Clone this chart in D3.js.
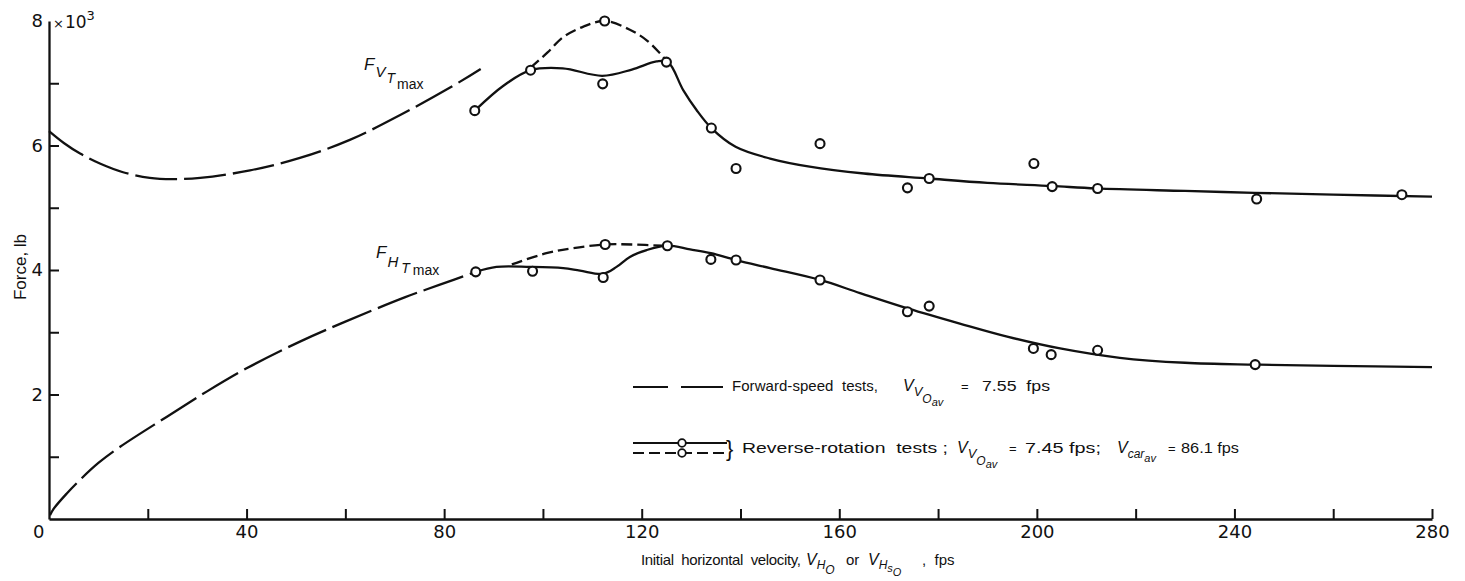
<!DOCTYPE html>
<html><head><meta charset="utf-8">
<script src="https://cdn.jsdelivr.net/npm/d3@7"></script>
<style>
body{margin:0;background:#fff}
text{font-family:"Liberation Sans",Arial,sans-serif;fill:#111;white-space:pre}
</style>
</head><body>
<svg id="c" width="1465" height="581"></svg>
<script>
// ---------- data ----------
const xTickValues = [0,20,40,60,80,100,120,140,160,180,200,220,240,260,280];
const xTickLabels = [0,40,80,120,160,200,240,280];
const yTickValues = [1,2,3,4,5,6,7,8];
const yTickLabels = [2,4,6,8];

// Forward-speed tests (long dashed curves)
const fvForwardX = [0, 3, 6.3, 10.3, 15, 20.4, 25, 30.6, 40.7, 50.8, 60.9, 71.1, 81.2, 87.4];
const fvForwardY = [6.23, 6.04, 5.87, 5.71, 5.57, 5.48, 5.46, 5.48, 5.6, 5.8, 6.09, 6.49, 6.93, 7.23];
const fhForwardX = [0.2, 1, 3.6, 6.3, 10, 14.4, 23.8, 32, 40, 50.8, 60, 72, 79, 86.4];
const fhForwardY = [0.06, 0.17, 0.41, 0.63, 0.9, 1.16, 1.64, 2.05, 2.42, 2.85, 3.17, 3.56, 3.76, 3.97];

// Reverse-rotation tests, faired curves (solid and short dashed)
const fvRevSolidX = [86.2, 92, 97.5, 104, 112, 118, 123, 125.3, 128.4, 131.1, 134.1, 139, 146, 154, 165, 178, 190, 203, 212, 230, 244, 260, 280];
const fvRevSolidY = [6.56, 6.96, 7.21, 7.24, 7.12, 7.22, 7.35, 7.34, 6.89, 6.57, 6.28, 5.98, 5.79, 5.66, 5.55, 5.47, 5.40, 5.35, 5.31, 5.27, 5.24, 5.21, 5.18];
const fvRevDashX = [97.5, 101, 104.1, 108.2, 112.5, 117.6, 121, 123.7, 125];
const fvRevDashY = [7.25, 7.5, 7.74, 7.91, 8.0, 7.86, 7.69, 7.48, 7.36];
const fhRevSolidX = [86.4, 90.6, 97.4, 104.1, 107.5, 112.2, 114.9, 117.6, 121, 125.2, 129.8, 134, 139.1, 146, 156.1, 164.2, 174, 184.4, 194, 204.7, 216.8, 230, 244.2, 260, 280];
const fhRevSolidY = [3.97, 4.05, 4.05, 4.03, 3.99, 3.94, 4.05, 4.21, 4.32, 4.39, 4.33, 4.27, 4.16, 4.03, 3.84, 3.63, 3.38, 3.14, 2.93, 2.74, 2.59, 2.51, 2.48, 2.46, 2.44];
const fhRevDashX = [93.7, 100.7, 106.1, 112.6, 118, 124.3];
const fhRevDashY = [4.09, 4.27, 4.35, 4.41, 4.41, 4.39];

// Reverse-rotation test points
const fvPointsX = [86.2, 97.5, 112.1, 112.5, 125.0, 134.1, 139.1, 156.1, 173.8, 178.2, 199.4, 203.1, 212.3, 244.5, 273.9];
const fvPointsY = [6.56, 7.21, 6.99, 8.00, 7.34, 6.28, 5.63, 6.03, 5.32, 5.47, 5.71, 5.34, 5.31, 5.14, 5.21];
const fhPointsX = [86.4, 97.9, 112.2, 112.6, 125.2, 134.0, 139.1, 156.1, 173.8, 178.2, 199.3, 202.9, 212.3, 244.2];
const fhPointsY = [3.97, 3.98, 3.88, 4.41, 4.39, 4.17, 4.16, 3.84, 3.33, 3.42, 2.74, 2.64, 2.71, 2.48];

// ---------- drawing ----------
const svg = d3.select("#c");
const x = d3.scaleLinear().domain([0,280]).range([49,1432]);
const y = d3.scaleLinear().domain([0,8]).range([519,21]);
const INK = "#111";
const TICKFONT = "DejaVu Sans, Liberation Sans, sans-serif";

const zip = (a,b) => a.map((v,i)=>[v,b[i]]);
const line = d3.line().x(d=>x(d[0])).y(d=>y(d[1])).curve(d3.curveCatmullRom.alpha(0.5));

// axes
const xAxis = d3.axisBottom(x).tickValues(xTickValues).tickSize(-10).tickSizeOuter(0).tickPadding(6)
  .tickFormat(d => xTickLabels.includes(d) ? String(d) : "");
const gx = svg.append("g").attr("transform",`translate(0,${y(0)})`).call(xAxis);
gx.select(".domain").attr("stroke",INK).attr("stroke-width",2.3);
gx.selectAll(".tick line").attr("stroke",INK).attr("stroke-width",2);
gx.selectAll(".tick text").attr("font-size",18).attr("fill",INK).style("font-family",TICKFONT);
gx.selectAll(".tick").filter(d=>d===0).select("text").attr("text-anchor","end").attr("x",-5);
gx.selectAll(".tick").filter(d=>d===0).select("line").remove();

const yAxis = d3.axisLeft(y).tickValues(yTickValues).tickSize(-10).tickSizeOuter(0).tickPadding(6)
  .tickFormat(d => yTickLabels.includes(d) ? String(d) : "");
const gy = svg.append("g").attr("transform",`translate(${x(0)},0)`).call(yAxis);
gy.select(".domain").attr("stroke",INK).attr("stroke-width",2.3);
gy.selectAll(".tick line").attr("stroke",INK).attr("stroke-width",2);
gy.selectAll(".tick").filter(d=>d===8).select("line").remove();
gy.selectAll(".tick text").attr("font-size",18).attr("fill",INK).style("font-family",TICKFONT);

// x10^3 multiplier
const mult = svg.append("text").attr("x",x(0)+4).attr("y",y(8)+7).style("font-family",TICKFONT);
mult.append("tspan").attr("font-size",13).text("×");
mult.append("tspan").attr("font-size",17).attr("dx",1).text("10");
mult.append("tspan").attr("dy",-8).attr("font-size",13).text("3");

// curves
function drawCurve(xs, ys, dash){
  svg.append("path").datum(zip(xs,ys)).attr("d",line)
    .attr("fill","none").attr("stroke",INK).attr("stroke-width",2.3)
    .attr("stroke-dasharray",dash||null).attr("stroke-linecap","butt");
}
drawCurve(fvForwardX, fvForwardY, "42,7");
drawCurve(fhForwardX, fhForwardY, "42,7");
drawCurve(fvRevSolidX, fvRevSolidY);
drawCurve(fhRevSolidX, fhRevSolidY);
drawCurve(fvRevDashX, fvRevDashY, "11,5");
drawCurve(fhRevDashX, fhRevDashY, "11,5");

// points
function drawPoints(xs, ys){
  svg.append("g").selectAll("circle").data(zip(xs,ys)).join("circle")
    .attr("cx",d=>x(d[0])).attr("cy",d=>y(d[1])).attr("r",4.5)
    .attr("fill","#fff").attr("stroke",INK).attr("stroke-width",2.1);
}
drawPoints(fvPointsX, fvPointsY);
drawPoints(fhPointsX, fhPointsY);

// rich text helper: parts = [{t, s(size), o(baseline offset), i(italic), x(abs x), dx, w(textLength), g(stretch glyphs)}]
function rich(px, py, parts, anchor){
  const t = svg.append("text").attr("x",px).attr("y",py).attr("text-anchor",anchor||"start");
  let prev = 0;
  parts.forEach(p=>{
    const o = p.o||0;
    const ts = t.append("tspan").attr("dy",o-prev).attr("font-size",p.s).text(p.t);
    if(p.i) ts.attr("font-style","italic");
    if(p.dx) ts.attr("dx",p.dx);
    if(p.x!==undefined) ts.attr("x",p.x);
    if(p.w) ts.attr("textLength",p.w).attr("lengthAdjust",p.g?"spacingAndGlyphs":"spacing");
    prev = o;
  });
  return t;
}

// curve labels
rich(364, 70, [{t:"F",s:17,i:1},{t:"V",s:15,o:7,i:1,dx:1},{t:"T",s:14,o:13,i:1,dx:1},{t:"max",s:14,o:19,dx:2}]);
rich(376, 258, [{t:"F",s:17,i:1},{t:"H",s:15,o:9,i:1,dx:1},{t:"T",s:14,o:15,i:1,dx:3},{t:"max",s:14,o:17,dx:3}]);

// axis titles
svg.append("text").attr("transform",`translate(26,${267}) rotate(-90)`).attr("text-anchor","middle")
  .attr("font-size",17).text("Force, lb");
rich(641, 565, [
  {t:"Initial  horizontal  velocity,",s:15,w:160},
  {t:"V",s:16,i:1,x:806},{t:"H",s:12,o:4,i:1},{t:"O",s:12,o:9,i:1},
  {t:"or",s:15,o:0,x:846},
  {t:"V",s:16,i:1,x:868},{t:"H",s:12,o:4,i:1},{t:"s",s:11,o:7,i:1},{t:"O",s:11,o:11,i:1},
  {t:",  fps",s:15,o:0,x:922}
]);

// legend
svg.append("path").attr("d",`M633,387H723`).attr("stroke",INK).attr("stroke-width",2.1).attr("stroke-dasharray","35,13,42,0");
rich(732, 391, [
  {t:"Forward-speed  tests,",s:15,w:146},
  {t:"V",s:16,i:1,x:903},{t:"V",s:13,o:5,i:1},{t:"O",s:12,o:12,i:1},{t:"av",s:11,o:15,i:1},
  {t:"=",s:13,o:0,x:961},
  {t:"7.55  fps",s:15,x:982,w:68,g:1}
]);
svg.append("path").attr("d",`M633,443H727`).attr("stroke",INK).attr("stroke-width",2);
svg.append("path").attr("d",`M633,453H727`).attr("stroke",INK).attr("stroke-width",2).attr("stroke-dasharray","11,5");
[443,453].forEach(cy=>svg.append("circle").attr("cx",682).attr("cy",cy).attr("r",3.8)
  .attr("fill","#fff").attr("stroke",INK).attr("stroke-width",1.8));
svg.append("text").attr("x",726).attr("y",456).attr("font-size",22).text("}");
rich(742, 453, [
  {t:"Reverse-rotation  tests ;",s:15,w:206,g:1},
  {t:"V",s:16,i:1,x:957},{t:"V",s:13,o:5,i:1},{t:"O",s:12,o:12,i:1},{t:"av",s:11,o:15,i:1},
  {t:"=",s:13,o:0,x:1009},
  {t:"7.45 fps;",s:15,x:1025,w:76,g:1},
  {t:"V",s:16,i:1,x:1117},{t:"car",s:12,o:5,i:1},{t:"av",s:11,o:9,i:1},
  {t:"=",s:13,o:0,x:1168},
  {t:"86.1 fps",s:15,x:1181,w:58,g:1}
]);
</script>
</body></html>
